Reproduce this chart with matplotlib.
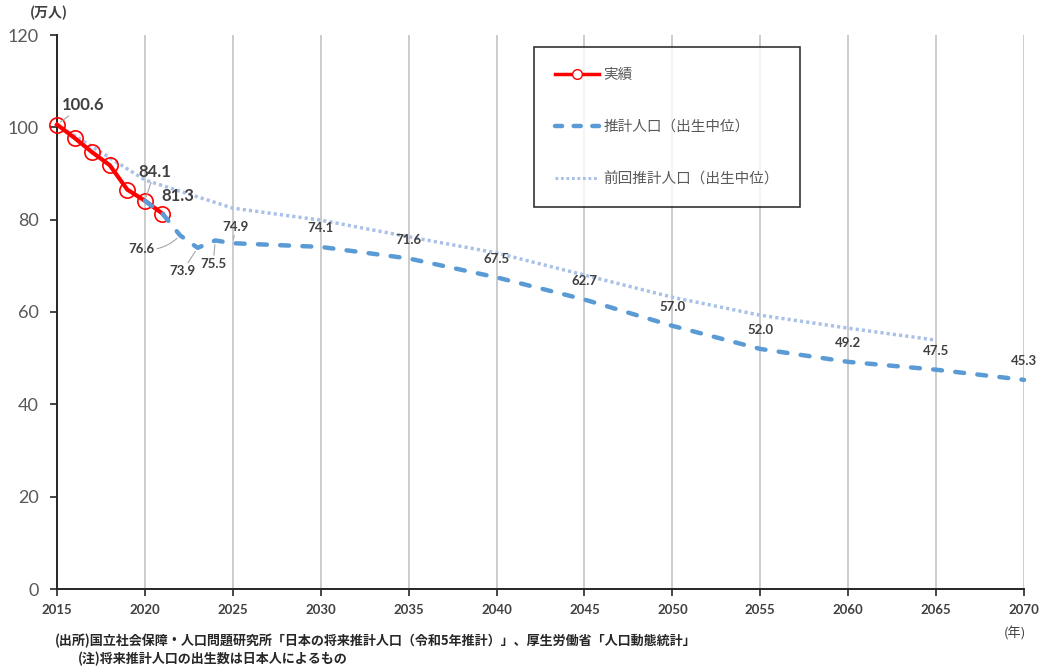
import matplotlib
matplotlib.use("Agg")
import matplotlib.pyplot as plt
from matplotlib.lines import Line2D

plt.rcParams['font.family'] = ['Noto Sans CJK JP', 'DejaVu Sans']

# 実績 (actual births, 万人)
actual_years = [2015, 2016, 2017, 2018, 2019, 2020, 2021]
actual_vals = [100.6, 97.7, 94.6, 91.8, 86.5, 84.1, 81.3]

# 推計人口（出生中位）
proj_years = [2020, 2021, 2022, 2023, 2024, 2025, 2030, 2035, 2040, 2045,
              2050, 2055, 2060, 2065, 2070]
proj_vals = [84.1, 81.3, 76.6, 73.9, 75.5, 74.9, 74.1, 71.6, 67.5, 62.7,
             57.0, 52.0, 49.2, 47.5, 45.3]

# 前回推計人口（出生中位）
prev_years = [2015, 2020, 2025, 2030, 2035, 2040, 2045, 2050, 2055, 2060, 2065]
prev_vals = [100.6, 88.6, 82.5, 79.9, 76.3, 72.8, 68.0, 63.2, 59.3, 56.5, 53.9]

x_ticks = list(range(2015, 2071, 5))
y_ticks = [0, 20, 40, 60, 80, 100, 120]

RED = "#ff0000"
BLUE = "#5b9bd5"
LIGHT = "#a9c1e8"
TXT = "#404040"

fig = plt.figure(figsize=(10.43, 6.72), dpi=100)
ax = fig.add_axes([57 / 1043, 1 - 589 / 672, 967 / 1043, 554 / 672])

ax.plot(prev_years, prev_vals, color=LIGHT, lw=2.5, linestyle=(0, (0.9, 0.9)),
        dash_capstyle="butt", zorder=2, clip_on=False)
ax.plot(actual_years, actual_vals, color=RED, lw=3, marker="o", markersize=11,
        markerfacecolor="none", markeredgecolor=RED, markeredgewidth=1.2,
        zorder=4, clip_on=False)
ax.plot(proj_years, proj_vals, color=BLUE, lw=3.2, linestyle=(0, (2.0, 3.0)),
        dash_capstyle="round", zorder=5, clip_on=False)

leader = dict(arrowstyle="-", color="#a6a6a6", lw=0.8, shrinkA=0, shrinkB=3)

# big labels on actual series
big_labels = [(2015, 100.6, (19, 14)), (2020, 84.1, (7, 21)), (2021, 81.3, (11, 13))]
for yr, v, off in big_labels:
    ax.annotate(f"{v:.1f}", (yr, v), xytext=off, textcoords="offset points",
                ha="center", va="center", fontsize=12, fontweight="bold",
                color=TXT, family="Lato",
                arrowprops=leader if yr != 2021 else None, zorder=6)

# projection labels
proj_offsets = {2022: (-28, -10), 2023: (-11, -17), 2024: (-1.5, -17),
                2025: (2, 12)}
for yr, v in zip(proj_years, proj_vals):
    if yr in (2020, 2021):
        continue
    off = proj_offsets.get(yr, (0, 13.5))
    arrow = None
    if yr in proj_offsets:
        arrow = dict(leader)
        if yr == 2022:
            arrow["connectionstyle"] = "arc3,rad=0.25"
    ax.annotate(f"{v:.1f}", (yr, v), xytext=off, textcoords="offset points",
                ha="center", va="center", fontsize=9.5, color=TXT,
                family="Lato", fontweight="bold", arrowprops=arrow, zorder=6,
                annotation_clip=False)

ax.set_xlim(2015, 2070)
ax.set_ylim(0, 120)
ax.set_xticks(x_ticks)
ax.set_yticks(y_ticks)
ax.set_xticklabels([str(t) for t in x_ticks], family="Lato", fontsize=9.5,
                   color=TXT, fontweight="bold")
ax.set_yticklabels([str(t) for t in y_ticks], family="Lato", fontsize=13,
                   color="#595959")
ax.tick_params(axis="y", length=5, width=1.2, color="#262626", pad=8)
ax.tick_params(axis="x", length=5, width=1.2, color="#262626", pad=6)
ax.grid(axis="x", color="#c8c8c8", lw=1.3)
ax.set_axisbelow(True)
for side in ("top", "right"):
    ax.spines[side].set_visible(False)
for side in ("left", "bottom"):
    ax.spines[side].set_color("#262626")
    ax.spines[side].set_linewidth(1.4)

handles = [
    Line2D([], [], color=RED, lw=2.5, marker="o", markersize=7,
           markerfacecolor="white", markeredgecolor=RED),
    Line2D([], [], color=BLUE, lw=3.2, linestyle=(0, (1.6, 2.6)),
           dash_capstyle="round"),
    Line2D([], [], color=LIGHT, lw=2.2, linestyle=(0, (0.9, 0.9))),
]
labels = ["実績", "推計人口（出生中位）", "前回推計人口（出生中位）"]
leg = fig.legend(handles, labels, loc="upper left",
                 bbox_to_anchor=(534 / 1043, 1 - 47 / 672), borderaxespad=0,
                 fontsize=10.5, labelspacing=2.6, handlelength=3.0,
                 handletextpad=0.3, borderpad=1.45, frameon=True, fancybox=False,
                 labelcolor="#595959")
leg.get_frame().set_edgecolor("black")
leg.get_frame().set_linewidth(1.2)

fig.text(30 / 1043, 1 - 13 / 672, "(万人)", fontsize=10, color=TXT,
         ha="left", va="center", fontweight="bold")
fig.text(1015 / 1043, 1 - 633 / 672, "(年)", fontsize=9.5, color=TXT,
         ha="center", va="center")
fig.text(55 / 1043, 1 - 641 / 672,
         "(出所)国立社会保障・人口問題研究所「日本の将来推計人口（令和5年推計）」、厚生労働省「人口動態統計」",
         fontsize=9.4, color="#262626", ha="left", va="center", fontweight="bold")
fig.text(78 / 1043, 1 - 659 / 672, "(注)将来推計人口の出生数は日本人によるもの",
         fontsize=9.4, color="#262626", ha="left", va="center", fontweight="bold")

fig.savefig("out.png", dpi=100)
